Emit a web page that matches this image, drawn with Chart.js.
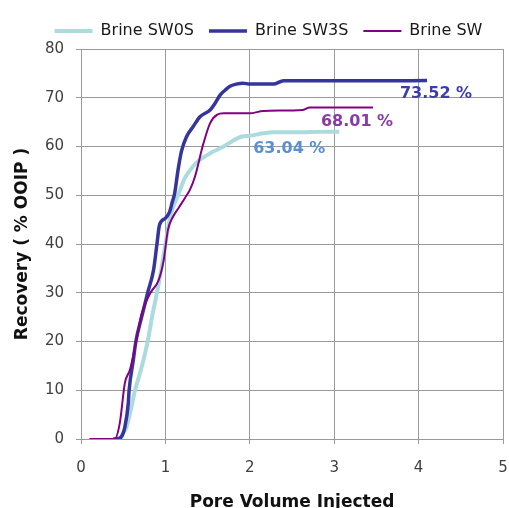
<!DOCTYPE html>
<html>
<head>
<meta charset="utf-8">
<title>Recovery vs Pore Volume Injected</title>
<script src="https://cdn.jsdelivr.net/npm/chart.js@4.4.1/dist/chart.umd.min.js"></script>
<style>
  html, body { margin: 0; padding: 0; background: #fff; }
  #grafico { display: block; }
</style>
</head>
<body>
<canvas id="grafico" width="509" height="508"></canvas>
<script>
// NOMBRES DE LAS SERIES (LEYENDA)
const nombres = ["Brine SW0S", "Brine SW3S", "Brine SW"]

// Brine SW0S
const pvSW0S = [0.40, 0.46, 0.50, 0.54, 0.59, 0.64, 0.72, 0.79, 0.85, 0.90, 0.95, 1.00, 1.05, 1.10, 1.15, 1.23, 1.33, 1.41, 1.55, 1.69, 1.80, 1.90, 2.00, 2.16, 2.28, 2.60, 2.80, 3.06]
const recSW0S = [0, 0, 1.3, 2.5, 6, 10, 14.8, 20, 25.8, 30, 34.7, 40, 45, 48, 50, 53.5, 56, 57.3, 58.8, 60, 61.2, 62.0, 62.2, 62.7, 62.9, 62.9, 63.0, 63.04]

// Brine SW3S
const pvSW3S = [0.38, 0.42, 0.48, 0.52, 0.56, 0.57, 0.62, 0.65, 0.72, 0.79, 0.86, 0.90, 0.93, 1.00, 1.05, 1.08, 1.11, 1.15, 1.19, 1.25, 1.33, 1.41, 1.53, 1.59, 1.65, 1.71, 1.76, 1.84, 1.92, 2.00, 2.28, 2.40, 3.00, 3.50, 4.10]
const recSW3S = [0, 0, 0.5, 2.5, 7.3, 10, 16.2, 20, 25.1, 30, 34.7, 40, 43.9, 45.3, 46.6, 48.5, 50.4, 55.2, 59, 62, 64.1, 66.1, 67.5, 68.9, 70.6, 71.6, 72.3, 72.8, 73.0, 72.8, 72.8, 73.5, 73.5, 73.5, 73.52]

// Brine SW
const pvSW = [0.10, 0.25, 0.40, 0.46, 0.52, 0.58, 0.64, 0.72, 0.82, 0.92, 0.98, 1.03, 1.09, 1.16, 1.23, 1.29, 1.35, 1.45, 1.53, 1.61, 1.69, 1.90, 2.00, 2.16, 2.63, 2.71, 3.46]
const recSW = [0, 0, 0, 3.3, 11.5, 14.2, 18.9, 25.8, 29.9, 32.6, 36.7, 42.9, 45.6, 47.5, 49.4, 51.1, 53.8, 60.6, 64.8, 66.5, 66.8, 66.8, 66.8, 67.3, 67.5, 68.0, 68.01]

// VALORES DE LOS EJES
const ticksX = [0, 1, 2, 3, 4, 5]
const ticksY = [0, 10, 20, 30, 40, 50, 60, 70, 80]

// ETIQUETAS AL FINAL DE CADA CURVA
const etiquetas = ["63.04 %", "73.52 %", "68.01 %"]

const colores = ["#acdbde", "#35359c", "#820082"]
const coloresEtiqueta = ["#5b8fd2", "#3d3dab", "#8a3ca6"]
const grosores = [4, 3.5, 2]
const desplazamientos = [[-50, 17], [9, 13], [-16, 14]] // px desde el ultimo punto

const fuente = "'DejaVu Sans', Verdana, sans-serif"
Chart.defaults.font.family = fuente

function armarPuntos(xs, ys) {
    return xs.map((x, i) => ({ x: x, y: ys[i] }))
}

const series = [
    armarPuntos(pvSW0S, recSW0S),
    armarPuntos(pvSW3S, recSW3S),
    armarPuntos(pvSW, recSW)
]

const datasets = series.map((data, i) => {
    return {
        label: nombres[i],
        data,
        showLine: true,
        borderColor: colores[i],
        backgroundColor: colores[i],
        borderWidth: grosores[i],
        pointBorderWidth: grosores[i],
        pointRadius: 0,
        pointHoverRadius: 0,
        cubicInterpolationMode: "monotone",
        fill: false,
        order: 3 - i // SW0S QUEDA ABAJO
    }
})

// DIBUJA LOS PORCENTAJES FINALES
const etiquetasFinales = {
    id: "etiquetasFinales",
    afterDatasetsDraw(chart) {
        const ctx = chart.ctx
        chart.data.datasets.forEach((ds, i) => {
            const meta = chart.getDatasetMeta(i)
            const ultimo = meta.data[meta.data.length - 1]
            ctx.save()
            ctx.font = "bold 16px " + fuente
            ctx.fillStyle = coloresEtiqueta[i]
            ctx.textAlign = "center"
            ctx.textBaseline = "middle"
            ctx.fillText(etiquetas[i], ultimo.x + desplazamientos[i][0], ultimo.y + desplazamientos[i][1])
            ctx.restore()
        })
    }
}

const grilla = {
    color: "#9a9a9a",
    lineWidth: 1,
    tickLength: 5,
    drawTicks: true
}

new Chart(document.querySelector("#grafico"), {
    type: "scatter",
    data: { datasets },
    options: {
        responsive: false,
        animation: false,
        layout: { padding: { top: -2, left: 34, right: 6, bottom: 0 } },
        plugins: {
            legend: {
                position: "top",
                labels: {
                    usePointStyle: true,
                    pointStyle: "line",
                    pointStyleWidth: 38,
                    padding: 15,
                    color: "#1a1a1a",
                    font: { size: 16 },
                    sort: (a, b) => a.datasetIndex - b.datasetIndex
                }
            },
            tooltip: { enabled: false }
        },
        scales: {
            x: {
                type: "linear",
                min: 0,
                max: 5,
                afterBuildTicks: (s) => { s.ticks = ticksX.map(v => ({ value: v })) },
                afterFit: (s) => { s.height = 69; s.paddingRight = 6 },
                grid: grilla,
                border: { color: "#9a9a9a" },
                ticks: { color: "#404040", font: { size: 15 }, padding: 15 },
                title: {
                    display: true,
                    text: "Pore Volume Injected",
                    color: "#111",
                    font: { size: 17, weight: "bold", lineHeight: 1 },
                    padding: { top: 0, bottom: -3 }
                }
            },
            y: {
                type: "linear",
                min: 0,
                max: 80,
                afterBuildTicks: (s) => { s.ticks = ticksY.map(v => ({ value: v })) },
                afterFit: (s) => { s.width = 47; s.paddingTop = 49 },
                grid: grilla,
                border: { color: "#9a9a9a" },
                ticks: { color: "#404040", font: { size: 15 }, padding: 12 },
                title: {
                    display: true,
                    text: "Recovery ( % OOIP )",
                    color: "#111",
                    font: { size: 17, weight: "bold", lineHeight: 1 },
                    padding: { top: -19.5, bottom: 0 }
                }
            }
        }
    },
    plugins: [etiquetasFinales]
})
</script>
</body>
</html>
